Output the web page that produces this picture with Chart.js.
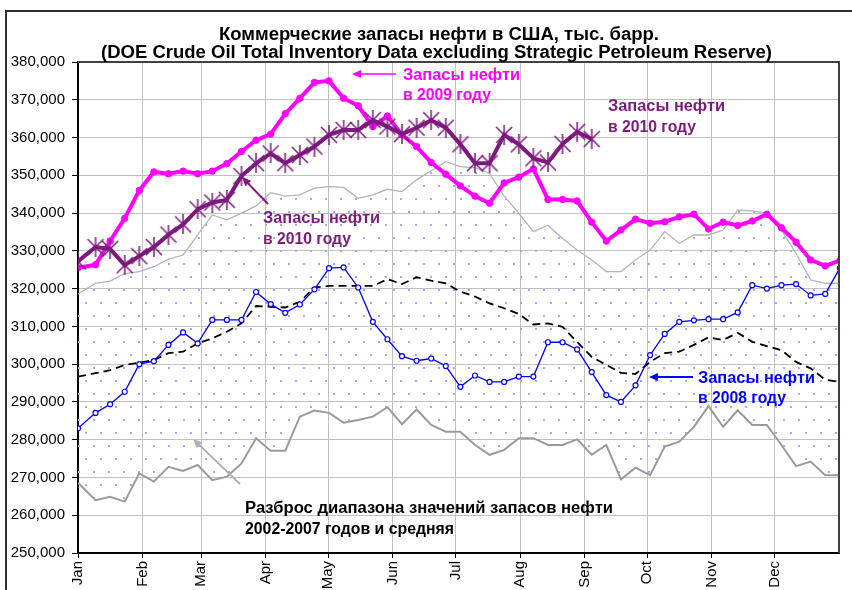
<!DOCTYPE html>
<html>
<head>
<meta charset="utf-8">
<script src="https://cdn.jsdelivr.net/npm/chart.js@4.4.0/dist/chart.umd.min.js"></script>
<style>
  html, body { margin: 0; padding: 0; background: #fff; overflow: hidden; }
  #wrap { width: 852px; height: 590px; overflow: hidden; }
</style>
</head>
<body>
<div id="wrap"><canvas id="oilChart" width="852" height="620"></canvas></div>
<script>
// Weekly US crude stocks, thousand barrels
const months = ["Jan", "Feb", "Mar", "Apr", "May", "Jun", "Jul", "Aug", "Sep", "Oct", "Nov", "Dec"];
const monthStarts = [1, 32, 60, 91, 121, 152, 182, 213, 244, 274, 305, 335];

const stocks2008 = [
  283000, 287100, 289400, 292700, 300000, 300800, 305100, 308400, 305500, 311700,
  311700, 311700, 319100, 315900, 313600, 315800, 319800, 325400, 325600, 320300,
  311200, 306600, 302100, 300900, 301500, 299500, 294000, 297000, 295300, 295300,
  296700, 296700, 305800, 305800, 303900, 297900, 291800, 290000, 294400, 302400,
  308000, 311200, 311600, 311900, 311900, 313700, 320900, 320000, 320900, 321200,
  318200, 318600, 325400
];
const stocks2009 = [
  325500, 326300, 332600, 338600, 346000, 350900, 350400, 351100, 350400, 351100,
  353100, 356300, 359300, 360900, 366300, 370400, 374600, 375000, 370400, 368400,
  362900, 365700, 360700, 357600, 353400, 350300, 347200, 344500, 342600, 348000,
  349500, 351700, 343600, 343600, 343200, 337600, 332600, 335500, 338400, 337300,
  337700, 339000, 339700, 335800, 337600, 336700, 337900, 339700, 336100, 332300,
  327600, 326000, 327400
];
const stocks2010 = [
  327200, 331000, 330500, 326200, 328600, 331000, 334300, 337000, 341000, 342800,
  343500, 349800, 353200, 355800, 353200, 355400, 357600, 360700, 362000, 362000,
  364600, 362900, 360900, 362600, 364600, 362600, 358200, 353200, 353200, 360700,
  358200, 354500, 353400, 358300, 361500, 359600
];
// 2002-2007 range: weekly maximum, minimum and average
const rangeMax = [
  318600, 321400, 322000, 324000, 324500, 325800, 327800, 328900, 334200, 339500,
  338200, 340000, 341900, 345400, 344500, 344800, 346600, 347000, 346800, 343900,
  344800, 346300, 345700, 348800, 351200, 353600, 352300, 352000, 350500, 344500,
  340000, 335100, 336800, 333300, 330200, 327600, 324500, 324500, 327600, 330200,
  335100, 332000, 334200, 334200, 335500, 340800, 340600, 340000, 335500, 329300,
  322300, 321400, 321400
];
const rangeMin = [
  268600, 264000, 264900, 263600, 271100, 268900, 272800, 271700, 273300, 269300,
  270200, 273700, 280400, 277100, 277100, 286100, 287700, 287100, 284500, 285200,
  286100, 288600, 284100, 288000, 283900, 282100, 282100, 278600, 276000, 277300,
  280400, 280400, 278600, 278600, 280100, 276000, 278600, 269500, 272600, 270600,
  278200, 279500, 283400, 288900, 283400, 287800, 283900, 283900, 278600, 273000,
  274200, 270600, 270600
];
const rangeAvg = [
  296700, 297600, 298400, 299800, 300400, 301100, 302900, 303300, 305500, 306800,
  308600, 310800, 315400, 315200, 315000, 316500, 320300, 320700, 320700, 320700,
  320700, 322500, 321200, 323000, 322100, 321400, 319200, 317900, 316100, 314800,
  313300, 310500, 310800, 309900, 305900, 301900, 299800, 297700, 297400, 300600,
  302900, 303300, 305100, 307100, 306400, 308300, 305900, 304800, 303700, 300600,
  298900, 295900, 295300
];

const FONT = "'Liberation Sans', Arial, sans-serif";
const PURPLE = "#7d1a7d";

// first report on Jan 1, then weekly
function weekDay(i) {
  return i === 0 ? 1 : 2.4 + 7 * i;
}
function toPoints(arr) {
  return arr.map((v, i) => ({ x: weekDay(i), y: v }));
}

function dotPattern(ctx) {
  let c = document.createElement("canvas");
  c.width = 30;
  c.height = 26;
  let g = c.getContext("2d");
  g.fillStyle = "#a6a6ff";
  [[3, 3], [18, 3], [10, 16], [25, 16]].forEach(p => g.fillRect(p[0], p[1], 2, 2));
  return ctx.createPattern(c, "repeat");
}

function starMarker() {
  let c = document.createElement("canvas");
  c.width = 20;
  c.height = 20;
  let g = c.getContext("2d");
  g.strokeStyle = PURPLE;
  g.lineWidth = 1.5;
  g.beginPath();
  g.moveTo(2, 2); g.lineTo(18, 18);
  g.moveTo(18, 2); g.lineTo(2, 18);
  g.moveTo(10, 0); g.lineTo(10, 20);
  g.stroke();
  return c;
}

// draw text squeezed/stretched to the width it has in the original
function fitText(ctx, text, x, y, width) {
  let w = ctx.measureText(text).width;
  ctx.save();
  ctx.translate(x, y);
  ctx.scale(width / w, 1);
  ctx.fillText(text, 0, 0);
  ctx.restore();
}

function arrow(ctx, x1, y1, x2, y2, color, width) {
  let a = Math.atan2(y2 - y1, x2 - x1);
  ctx.save();
  ctx.strokeStyle = color;
  ctx.fillStyle = color;
  ctx.lineWidth = width;
  ctx.beginPath();
  ctx.moveTo(x1, y1);
  ctx.lineTo(x2 - 6 * Math.cos(a), y2 - 6 * Math.sin(a));
  ctx.stroke();
  ctx.beginPath();
  ctx.moveTo(x2, y2);
  ctx.lineTo(x2 - 9 * Math.cos(a) + 4 * Math.sin(a), y2 - 9 * Math.sin(a) - 4 * Math.cos(a));
  ctx.lineTo(x2 - 9 * Math.cos(a) - 4 * Math.sin(a), y2 - 9 * Math.sin(a) + 4 * Math.cos(a));
  ctx.closePath();
  ctx.fill();
  ctx.restore();
}

const decorations = {
  id: "decorations",
  beforeDraw(chart) {
    let ctx = chart.ctx;
    ctx.save();
    ctx.fillStyle = "#fff";
    ctx.fillRect(0, 0, chart.width, chart.height);
    // outer frame of the picture
    ctx.strokeStyle = "#303030";
    ctx.lineWidth = 2;
    ctx.strokeRect(6, 11, chart.width + 20, chart.height + 20);
    ctx.restore();
  },
  afterDraw(chart) {
    let ctx = chart.ctx;
    let area = chart.chartArea;
    ctx.save();
    // top and right border of plot area
    ctx.strokeStyle = "#404040";
    ctx.lineWidth = 2;
    ctx.beginPath();
    ctx.moveTo(area.left, area.top);
    ctx.lineTo(area.right, area.top);
    ctx.lineTo(area.right, area.bottom);
    ctx.stroke();

    // title
    ctx.fillStyle = "#000";
    ctx.textBaseline = "alphabetic";
    ctx.font = "bold 18px " + FONT;
    fitText(ctx, "Коммерческие запасы нефти в США, тыс. барр.", 219, 40, 440);
    fitText(ctx, "(DOE Crude Oil Total Inventory Data excluding Strategic Petroleum Reserve)", 101, 58, 671);

    // labels
    ctx.font = "bold 16px " + FONT;
    ctx.fillStyle = "#ff00ff";
    fitText(ctx, "Запасы нефти", 403, 80, 117);
    fitText(ctx, "в 2009 году", 403, 100, 88);
    arrow(ctx, 396, 74, 352, 74, "#ff00ff", 1.5);

    ctx.fillStyle = PURPLE;
    fitText(ctx, "Запасы нефти", 608, 111, 117);
    fitText(ctx, "в 2010 году", 608, 131.5, 88);
    fitText(ctx, "Запасы нефти", 263, 223, 117);
    fitText(ctx, "в 2010 году", 263, 244, 88);
    arrow(ctx, 268, 204, 242, 177, PURPLE, 2);

    ctx.fillStyle = "#0000ff";
    fitText(ctx, "Запасы нефти", 698, 383, 117);
    fitText(ctx, "в 2008 году", 698, 403, 88);
    arrow(ctx, 693, 377, 649, 377, "#0000ff", 2);

    ctx.fillStyle = "#000";
    fitText(ctx, "Разброс диапазона значений запасов нефти", 245, 512.5, 368);
    fitText(ctx, "2002-2007 годов и средняя", 245, 534, 209);
    arrow(ctx, 240, 484, 193, 439, "#b0b0b0", 2);
    ctx.restore();
  }
};

const canvas = document.querySelector("#oilChart");
const ctx = canvas.getContext("2d");

new Chart(ctx, {
  type: "line",
  data: {
    datasets: [
      { label: "max 2002-2007", data: toPoints(rangeMax), borderColor: "#b4b4b4", borderWidth: 1.3,
        pointRadius: 0, fill: "+1", backgroundColor: dotPattern(ctx), order: 5 },
      { label: "min 2002-2007", data: toPoints(rangeMin), borderColor: "#9a9a9a", borderWidth: 2,
        pointRadius: 0, fill: false, order: 4 },
      { label: "avg 2002-2007", data: toPoints(rangeAvg), borderColor: "#000", borderWidth: 1.8,
        borderDash: [8, 5], pointRadius: 0, fill: false, order: 3 },
      { label: "2008", data: toPoints(stocks2008), borderColor: "#0000ff", borderWidth: 1.3,
        pointRadius: 2.5, pointBorderWidth: 1.2, pointBorderColor: "#0000ff",
        pointBackgroundColor: "#fff", fill: false, order: 2 },
      { label: "2009", data: toPoints(stocks2009), borderColor: "#ff00ff", borderWidth: 4,
        pointRadius: 3.2, pointBorderWidth: 1, pointBorderColor: "#ff00ff",
        pointBackgroundColor: "#ff00ff", fill: false, order: 1 },
      { label: "2010", data: toPoints(stocks2010), borderColor: PURPLE, borderWidth: 4,
        pointStyle: starMarker(), pointRadius: 9, fill: false, order: 0 }
    ]
  },
  options: {
    responsive: false,
    animation: false,
    layout: { padding: { top: 62, right: 6, left: 0, bottom: 0 } },
    elements: { line: { tension: 0 } },
    plugins: {
      legend: { display: false },
      tooltip: { enabled: false },
      title: { display: false }
    },
    scales: {
      x: {
        type: "linear",
        min: 1,
        max: 366,
        afterBuildTicks: scale => { scale.ticks = monthStarts.map(v => ({ value: v })); },
        afterFit: scale => { scale.height = 67; },
        ticks: {
          autoSkip: false,
          maxRotation: 90,
          minRotation: 90,
          padding: 3,
          color: "#000",
          font: { family: FONT, size: 15 },
          callback: (v, i) => months[i]
        },
        grid: { color: "#c0c0c0", tickColor: "#000", tickLength: 5 },
        border: { color: "#000", width: 2 }
      },
      y: {
        min: 250000,
        max: 380000,
        afterFit: scale => { scale.width = 78; },
        ticks: {
          stepSize: 10000,
          padding: 7,
          color: "#000",
          font: { family: FONT, size: 15 },
          callback: v => v.toLocaleString("en-US")
        },
        grid: { color: "#c0c0c0", tickColor: "#000", tickLength: 6 },
        border: { color: "#000", width: 2 }
      }
    }
  },
  plugins: [decorations]
});
</script>
</body>
</html>
